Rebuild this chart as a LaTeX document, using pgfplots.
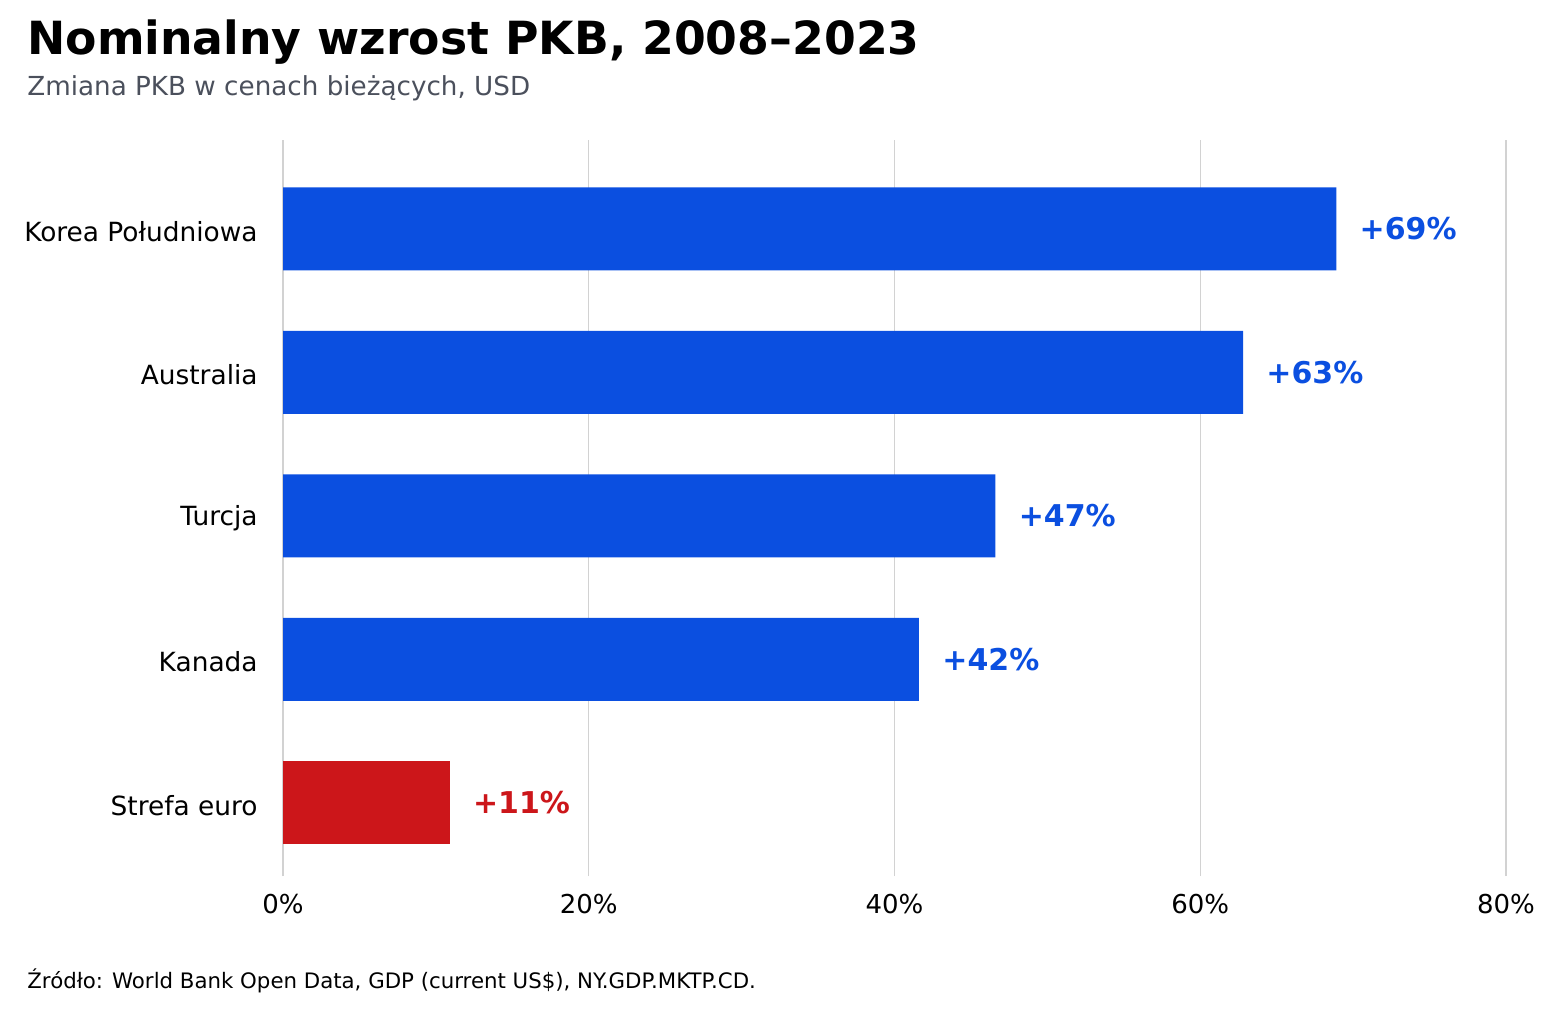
\documentclass[border=0pt]{standalone}
\usepackage{pgfplots}
\pgfplotsset{compat=1.18}
\usepackage{fontspec}
\setmainfont{DejaVu Sans}
\definecolor{barblue}{RGB}{11,79,224}
\definecolor{barred}{RGB}{204,22,26}
\definecolor{subgray}{RGB}{75,80,92}
\definecolor{gridgray}{RGB}{210,210,210}
\begin{document}
\begin{tikzpicture}[x=1pt,y=1pt]
\path (0,0) rectangle (776.5,506.5);
\node[anchor=base west, inner sep=0, font=\fontsize{22.85}{27}\selectfont\bfseries] at (13.5,479) {Nominalny wzrost PKB, 2008–2023};
\node[anchor=base west, inner sep=0, text=subgray, font=\fontsize{13.1}{15}\selectfont] at (13.5,458.5) {Zmiana PKB w cenach bieżących, USD};
\node[anchor=base west, inner sep=0, font=\fontsize{10.65}{12}\selectfont] at (13.5,12.5) {Źródło: World Bank Open Data, GDP (current US\$), NY.GDP.MKTP.CD.};
\begin{axis}[
  at={(141.5pt,68.5pt)}, anchor=south west,
  width=611.5pt, height=368pt, scale only axis,
  xmin=0, xmax=80, ymin=-0.51, ymax=4.62,
  xbar, bar width=41.5pt, bar shift=0pt,
  axis line style={draw=none},
  major tick length=0pt,
  xmajorgrids, grid style={gridgray, line width=0.7pt},
  xtick={0,20,40,60,80},
  xticklabels={0\%,20\%,40\%,60\%,80\%},
  ytick={0,1,2,3,4},
  yticklabels={Strefa euro,Kanada,Turcja,Australia,Korea Południowa},
  xticklabel style={anchor=base, inner sep=0pt, yshift=-18.5pt, font=\fontsize{13}{15}\selectfont},
  yticklabel style={anchor=east, inner sep=0pt, xshift=-12.5pt, yshift=-1.2pt, font=\fontsize{13.2}{15}\selectfont},
  point meta=explicit symbolic,
  nodes near coords,
  nodes near coords style={anchor=west, inner sep=0pt, xshift=11.5pt, font=\fontsize{15}{17}\selectfont\bfseries},
  clip=false,
]
\addplot[draw=none, fill=barblue, nodes near coords style={text=barblue}] coordinates {
  (68.9,4) [+69\%]
  (62.8,3) [+63\%]
  (46.6,2) [+47\%]
  (41.6,1) [+42\%]
};
\addplot[draw=none, fill=barred, nodes near coords style={text=barred}] coordinates {
  (10.9,0) [+11\%]
};
\end{axis}
\end{tikzpicture}
\end{document}
